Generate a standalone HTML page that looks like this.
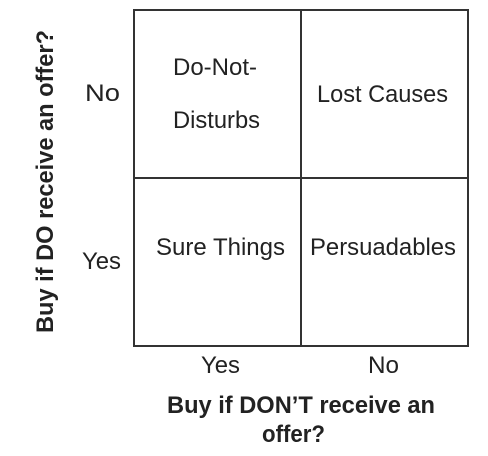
<!DOCTYPE html>
<html><head><meta charset="utf-8"><style>
html,body{margin:0;padding:0;background:#fff;}
svg{display:block;}
text{font-family:"Liberation Sans",Arial,sans-serif;fill:#222;}
.b{font-weight:bold;}
</style></head><body>
<svg width="488" height="456" viewBox="0 0 488 456" xmlns="http://www.w3.org/2000/svg">
<rect x="134" y="10" width="334" height="336" fill="none" stroke="#333" stroke-width="2"/>
<line x1="301" y1="10" x2="301" y2="346" stroke="#333" stroke-width="2"/>
<line x1="134" y1="178" x2="468" y2="178" stroke="#333" stroke-width="2"/>
<g font-size="24.5">
<text x="173" y="75" textLength="84" lengthAdjust="spacingAndGlyphs">Do-Not-</text>
<text x="173" y="128" textLength="87" lengthAdjust="spacingAndGlyphs">Disturbs</text>
<text x="317" y="102" textLength="131" lengthAdjust="spacingAndGlyphs">Lost Causes</text>
<text x="156" y="255" textLength="129" lengthAdjust="spacingAndGlyphs">Sure Things</text>
<text x="310" y="255" textLength="146" lengthAdjust="spacingAndGlyphs">Persuadables</text>
<text x="85" y="101" textLength="35" lengthAdjust="spacingAndGlyphs">No</text>
<text x="82" y="269" textLength="39" lengthAdjust="spacingAndGlyphs">Yes</text>
<text x="201" y="373" textLength="39" lengthAdjust="spacingAndGlyphs">Yes</text>
<text x="368" y="373" textLength="31" lengthAdjust="spacingAndGlyphs">No</text>
</g>
<g font-size="24" class="b">
<text class="b" x="167" y="413" textLength="268" lengthAdjust="spacingAndGlyphs">Buy if DON’T receive an</text>
<text class="b" x="262" y="442" textLength="63" lengthAdjust="spacingAndGlyphs">offer?</text>
<text class="b" transform="translate(53,333) rotate(-90)" x="0" y="0" textLength="303" lengthAdjust="spacingAndGlyphs">Buy if DO receive an offer?</text>
</g>
</svg>
</body></html>
